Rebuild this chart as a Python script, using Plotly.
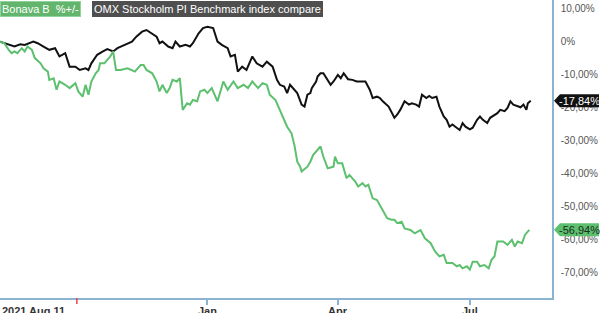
import plotly.graph_objects as go

# ---------------- data ----------------
omx_dates = [
    "2021-08-11", "2021-08-13", "2021-08-18", "2021-08-21", "2021-08-25", "2021-08-28",
    "2021-09-03", "2021-09-06", "2021-09-10", "2021-09-14", "2021-09-18", "2021-09-21",
    "2021-09-25", "2021-09-28", "2021-10-02", "2021-10-05", "2021-10-09", "2021-10-11",
    "2021-10-13", "2021-10-17", "2021-10-21", "2021-10-24", "2021-10-28", "2021-10-31",
    "2021-11-05", "2021-11-10", "2021-11-13", "2021-11-17", "2021-11-20", "2021-11-24",
    "2021-11-27", "2021-11-29", "2021-12-01", "2021-12-05", "2021-12-08", "2021-12-10",
    "2021-12-13", "2021-12-17", "2021-12-20", "2021-12-22", "2021-12-26", "2021-12-29",
    "2022-01-01", "2022-01-05", "2022-01-08", "2022-01-11", "2022-01-15", "2022-01-17",
    "2022-01-20", "2022-01-22", "2022-01-25", "2022-01-28", "2022-02-01", "2022-02-04",
    "2022-02-08", "2022-02-11", "2022-02-15", "2022-02-18", "2022-02-20", "2022-02-23",
    "2022-02-25", "2022-02-27", "2022-03-01", "2022-03-04", "2022-03-07", "2022-03-09",
    "2022-03-11", "2022-03-13", "2022-03-14", "2022-03-17", "2022-03-18", "2022-03-20",
    "2022-03-22", "2022-03-25", "2022-03-27", "2022-03-29", "2022-04-01", "2022-04-03",
    "2022-04-05", "2022-04-08", "2022-04-11", "2022-04-14", "2022-04-17", "2022-04-20",
    "2022-04-23", "2022-04-25", "2022-04-28", "2022-04-30", "2022-05-02", "2022-05-06",
    "2022-05-10", "2022-05-12", "2022-05-14", "2022-05-17", "2022-05-20", "2022-05-22",
    "2022-05-25", "2022-05-27", "2022-05-29", "2022-06-01", "2022-06-03", "2022-06-05",
    "2022-06-08", "2022-06-10", "2022-06-13", "2022-06-15", "2022-06-17", "2022-06-19",
    "2022-06-21", "2022-06-24", "2022-06-26", "2022-06-28", "2022-07-01", "2022-07-03",
    "2022-07-06", "2022-07-08", "2022-07-10", "2022-07-13", "2022-07-15", "2022-07-18",
    "2022-07-20", "2022-07-22", "2022-07-25", "2022-07-27", "2022-07-29", "2022-07-31",
    "2022-08-03", "2022-08-05", "2022-08-07", "2022-08-09", "2022-08-10", "2022-08-12",
]
omx_values = [
    0.1, -0.2, -0.9, -1.4, -0.7, -0.9,
    0.1, -0.4, -1.4, -2.4, -1.9, -4.4,
    -3.4, -7.5, -7.5, -8.5, -8.0, -8.5,
    -6.5, -3.9, -2.9, -2.2, -2.9, -1.9,
    -0.9, 0.1, 1.6, 3.1, 3.6, 2.6,
    1.6, -0.4, 0.1, -1.4, -1.9, 0.1,
    -1.4, -0.9, -1.4, -0.4, 2.6, 4.2,
    4.6, 4.2, 0.1, -0.9, -1.9, -4.4,
    -3.9, -9.0, -7.5, -8.5, -4.4, -6.5,
    -7.5, -6.0, -7.5, -11.5, -13.0, -13.5,
    -15.5, -13.0, -14.0, -15.5, -19.0, -19.6,
    -16.0, -15.5, -14.0, -12.0, -10.5, -9.5,
    -9.5, -11.5, -13.0, -12.0, -10.0, -11.0,
    -9.5, -11.3, -11.5, -12.0, -12.0, -12.0,
    -14.5, -17.0, -16.6, -17.0, -18.0, -19.6,
    -23.0, -22.0, -20.6, -18.0, -19.0, -18.6,
    -19.0, -19.6, -16.0, -17.0, -16.4, -17.0,
    -16.6, -19.6, -22.6, -23.6, -25.7, -25.0,
    -25.7, -26.7, -24.6, -25.7, -26.5, -26.0,
    -23.6, -22.6, -23.6, -24.6, -23.0, -22.0,
    -21.6, -20.6, -21.0, -20.0, -18.0, -19.0,
    -19.4, -19.8, -19.0, -20.6, -18.6, -17.84,
]

bonava_dates = [
    "2021-08-11", "2021-08-14", "2021-08-17", "2021-08-19", "2021-08-21", "2021-08-23",
    "2021-08-26", "2021-08-28", "2021-08-30", "2021-09-02", "2021-09-04", "2021-09-08",
    "2021-09-10", "2021-09-13", "2021-09-14", "2021-09-17", "2021-09-19", "2021-09-21",
    "2021-09-25", "2021-09-28", "2021-10-02", "2021-10-04", "2021-10-07", "2021-10-09",
    "2021-10-11", "2021-10-13", "2021-10-16", "2021-10-18", "2021-10-19", "2021-10-22",
    "2021-10-26", "2021-10-28", "2021-10-30", "2021-11-02", "2021-11-07", "2021-11-10",
    "2021-11-12", "2021-11-16", "2021-11-18", "2021-11-20", "2021-11-24", "2021-11-27",
    "2021-11-29", "2021-12-01", "2021-12-04", "2021-12-06", "2021-12-08", "2021-12-11",
    "2021-12-13", "2021-12-15", "2021-12-18", "2021-12-20", "2021-12-22", "2021-12-25",
    "2021-12-27", "2021-12-30", "2022-01-01", "2022-01-04", "2022-01-08", "2022-01-10",
    "2022-01-12", "2022-01-15", "2022-01-19", "2022-01-22", "2022-01-26", "2022-01-29",
    "2022-02-01", "2022-02-05", "2022-02-08", "2022-02-11", "2022-02-13", "2022-02-17",
    "2022-02-20", "2022-02-22", "2022-02-25", "2022-02-27", "2022-02-28", "2022-03-02",
    "2022-03-04", "2022-03-06", "2022-03-07", "2022-03-11", "2022-03-13", "2022-03-15",
    "2022-03-18", "2022-03-20", "2022-03-22", "2022-03-25", "2022-03-29", "2022-03-30",
    "2022-04-01", "2022-04-04", "2022-04-07", "2022-04-09", "2022-04-13", "2022-04-15",
    "2022-04-18", "2022-04-20", "2022-04-22", "2022-04-25", "2022-04-28", "2022-05-01",
    "2022-05-05", "2022-05-08", "2022-05-10", "2022-05-12", "2022-05-15", "2022-05-17",
    "2022-05-21", "2022-05-24", "2022-05-28", "2022-05-31", "2022-06-04", "2022-06-07",
    "2022-06-10", "2022-06-13", "2022-06-15", "2022-06-19", "2022-06-22", "2022-06-24",
    "2022-06-26", "2022-06-29", "2022-07-01", "2022-07-03", "2022-07-06", "2022-07-08",
    "2022-07-11", "2022-07-14", "2022-07-16", "2022-07-18", "2022-07-20", "2022-07-24",
    "2022-07-27", "2022-07-30", "2022-08-01", "2022-08-03", "2022-08-06", "2022-08-08",
    "2022-08-11",
]
bonava_values = [
    0.1, -0.4, -2.4, -3.4, -2.9, -3.4,
    -1.9, -2.9, -1.4, -2.4, -4.9, -6.5,
    -8.0, -9.0, -11.5, -11.0, -14.5, -12.0,
    -13.0, -14.0, -12.5, -15.0, -16.6, -13.0,
    -16.0, -12.0, -9.5, -8.5, -6.5, -6.5,
    -4.4, -2.9, -8.5, -8.5, -8.0, -8.5,
    -9.0, -7.0, -7.0, -8.5, -9.5, -12.0,
    -15.0, -13.0, -15.5, -14.0, -11.5, -12.0,
    -11.0, -20.6, -18.6, -19.0, -17.6, -18.0,
    -15.0, -14.5, -15.5, -14.0, -18.0, -15.0,
    -12.0, -14.5, -12.0, -14.0, -13.0, -14.0,
    -12.0, -14.0, -12.5, -13.0, -16.0, -17.6,
    -20.6, -22.6, -25.7, -27.0, -27.7, -31.2,
    -36.3, -37.8, -39.3, -37.8, -36.3, -34.2,
    -32.7, -31.7, -34.8, -38.3, -37.8, -34.8,
    -36.8, -36.8, -41.3, -40.3, -42.3, -43.8,
    -42.8, -43.8, -43.3, -47.4, -47.9, -50.4,
    -53.4, -53.9, -53.9, -54.9, -54.5, -56.5,
    -57.0, -58.0, -57.0, -59.5, -61.0, -63.5,
    -65.0, -64.5, -67.0, -67.0, -68.0, -67.6,
    -68.6, -68.0, -69.0, -66.6, -66.6, -68.0,
    -67.6, -68.6, -66.0, -65.0, -60.5, -60.5,
    -61.5, -60.0, -62.0, -60.5, -61.0, -58.5,
    -56.94,
]

y_tick_values = [10, 0, -10, -20, -30, -40, -50, -60, -70]
y_tick_labels = ["10,00%", "0%", "-10,00%", "-20,00%", "-30,00%", "-40,00%",
                 "-50,00%", "-60,00%", "-70,00%"]
x_tick_values = ["2022-01-01", "2022-04-01", "2022-07-01"]
x_tick_labels = ["Jan", "Apr", "Jul"]
start_label = "2021 Aug 11"
event_date = "2021-10-03"

series_names = ["Bonava B  %+/-", "OMX Stockholm PI Benchmark index compare"]

# ---------------- style ----------------
GREEN = "#5cc06e"
BLACK = "#111111"
AXIS = "#8ab4cf"
FONT = "Liberation Sans, Arial, sans-serif"
XLABEL_FONT = dict(family=FONT, size=11, color="#333", weight="bold")

fig = go.Figure()
fig.add_trace(go.Scatter(x=omx_dates, y=omx_values, mode="lines",
                         line=dict(color=BLACK, width=2), name=series_names[1]))
fig.add_trace(go.Scatter(x=bonava_dates, y=bonava_values, mode="lines",
                         line=dict(color=GREEN, width=2), name=series_names[0]))

fig.update_layout(
    width=600, height=313,
    margin=dict(l=0, r=48, t=0, b=15, autoexpand=False),
    paper_bgcolor="white", plot_bgcolor="white",
    showlegend=False,
    font=dict(family=FONT, size=11, color="#444"),
)
fig.update_xaxes(
    type="date", automargin=False,
    range=["2021-08-11", "2022-08-26 16:00"],
    showgrid=False, zeroline=False,
    showline=True, linecolor=AXIS, linewidth=1.5,
    tickmode="array", tickvals=x_tick_values, ticktext=x_tick_labels,
    ticks="outside", ticklen=5, tickcolor=AXIS, tickwidth=1.5,
    showticklabels=False,
)
fig.update_yaxes(
    side="right", automargin=False,
    range=[-77.6, 12.7],
    showgrid=False, zeroline=False,
    showline=True, linecolor=AXIS, linewidth=1.5,
    tickmode="array", tickvals=y_tick_values, ticktext=y_tick_labels,
    ticks="", ticklabelstandoff=5,
    tickfont=dict(family=FONT, size=10, color="#555"),
)

# x labels: start date + month labels
fig.add_annotation(xref="paper", yref="paper", x=0, y=0, xanchor="left", yanchor="top",
                   yshift=-5, text=start_label, showarrow=False, font=XLABEL_FONT)
for tv, tt in zip(x_tick_values, x_tick_labels):
    fig.add_annotation(xref="x", yref="paper", x=tv, y=0, xanchor="center", yanchor="top",
                       yshift=-5, text=tt, showarrow=False, font=XLABEL_FONT)

# red event tick
fig.add_shape(type="line", xref="x", yref="paper", x0=event_date, x1=event_date,
              y0=0, y1=-0.02, line=dict(color="#e8424a", width=1.5))

# legend-like boxes
fig.add_annotation(xref="paper", yref="paper", x=0, y=1, xanchor="left", yanchor="top",
                   yshift=-1, text=series_names[0].replace("  ", "\u00a0 "), showarrow=False,
                   bgcolor="#63b56d", bordercolor="#8fd39a", borderwidth=1, borderpad=1,
                   font=dict(family=FONT, size=11, color="white"))
fig.add_annotation(xref="paper", yref="paper", x=0.1667, y=1, xanchor="left", yanchor="top",
                   yshift=-1, text=series_names[1], showarrow=False,
                   bgcolor="#4f4f4f", bordercolor="#4f4f4f", borderwidth=1, borderpad=1,
                   font=dict(family=FONT, size=11, color="white"))

# end-value tags
for vals, bg, fg in [(omx_values, BLACK, "white"), (bonava_values, GREEN, "#1c2a1c")]:
    last = vals[-1]
    fig.add_shape(type="path", xref="paper", yref="y",
                  xsizemode="pixel", xanchor=1, ysizemode="pixel", yanchor=last,
                  path="M 2,0 L 8,6.5 L 47,6.5 L 47,-6.5 L 8,-6.5 Z",
                  fillcolor=bg, line=dict(width=0))
    label = f"{last:.2f}%".replace(".", ",")
    fig.add_annotation(xref="paper", yref="y", x=1, y=last, xanchor="left", yanchor="middle",
                       xshift=5, text=label, showarrow=False,
                       font=dict(family=FONT, size=11, color=fg))

fig.write_html("out.html")
